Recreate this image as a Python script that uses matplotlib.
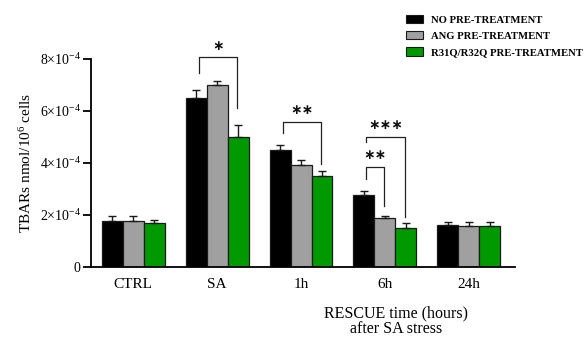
import matplotlib
matplotlib.use("Agg")
import matplotlib.pyplot as plt
from matplotlib.patches import Patch
import numpy as np

plt.rcParams['font.family'] = ['Liberation Serif', 'DejaVu Serif']
plt.rcParams['mathtext.fontset'] = 'custom'
plt.rcParams['mathtext.rm'] = 'Liberation Serif'
plt.rcParams['mathtext.it'] = 'Liberation Serif:italic'

categories = ["CTRL", "SA", "1h", "6h", "24h"]
series_names = ["NO PRE-TREATMENT", "ANG PRE-TREATMENT", "R31Q/R32Q PRE-TREATMENT"]
no_pre = [1.77e-4, 6.51e-4, 4.50e-4, 2.77e-4, 1.62e-4]
no_pre_err = [0.18e-4, 0.30e-4, 0.20e-4, 0.14e-4, 0.12e-4]
ang_pre = [1.77e-4, 6.99e-4, 3.93e-4, 1.90e-4, 1.57e-4]
ang_pre_err = [0.18e-4, 0.16e-4, 0.17e-4, 0.08e-4, 0.15e-4]
r31q_pre = [1.69e-4, 5.01e-4, 3.50e-4, 1.50e-4, 1.57e-4]
r31q_pre_err = [0.10e-4, 0.44e-4, 0.20e-4, 0.21e-4, 0.16e-4]
colors = ["#000000", "#a0a0a0", "#009a00"]
yticks = [0, 2e-4, 4e-4, 6e-4, 8e-4]
ytick_labels = ["0", r"2×10$^{-4}$", r"4×10$^{-4}$", r"6×10$^{-4}$", r"8×10$^{-4}$"]

# significance brackets: (group, bar_left, bar_right, top, left_end, right_end, star_y, label)
brackets = [
    (1, 0, 2, 8.07e-4, 7.45e-4, 6.12e-4, 8.50e-4, "*"),
    (2, 0, 2, 5.59e-4, 5.14e-4, 3.96e-4, 6.05e-4, "**"),
    (3, 0, 1, 3.86e-4, 3.37e-4, 2.35e-4, 4.32e-4, "**"),
    (3, 0, 2, 5.01e-4, 4.80e-4, 1.93e-4, 5.45e-4, "***"),
]

fig = plt.figure(figsize=(5.88, 3.40), dpi=100)
ax = fig.add_axes([0.155, 0.2147, 0.721, 0.6118])

x = np.arange(len(categories))
w = 0.25
offsets = [-w, 0, w]
for vals, errs, c, off, name in zip([no_pre, ang_pre, r31q_pre],
                                    [no_pre_err, ang_pre_err, r31q_pre_err],
                                    colors, offsets, series_names):
    ax.bar(x + off, vals, width=w, color=c, edgecolor="#1a1a1a", linewidth=0.9,
           label=name, zorder=2)
    ax.errorbar(x + off, vals, yerr=[np.zeros(len(vals)), errs], fmt="none",
                ecolor="#1a1a1a", elinewidth=1.0, capsize=3, capthick=1.0, zorder=3)

for g, bl, br, top, le, re, sy, lab in brackets:
    xl = g + offsets[bl] + 0.03
    xr = g + offsets[br] - 0.01
    ax.plot([xl, xl, xr, xr], [le, top, top, re], color="#222222", lw=0.9,
            clip_on=False, zorder=4)
    ax.text((xl + xr) / 2, sy, lab.replace("*", "∗"), ha="center", va="center",
            fontsize=10, fontweight="bold", family=["DejaVu Sans"], clip_on=False,
            color="#111111")

ax.set_xlim(-0.5, 4.55)
ax.set_ylim(0, 8e-4)
ax.set_yticks(yticks)
ax.set_yticklabels(ytick_labels, fontsize=10)
ax.set_xticks(x)
ax.set_xticklabels(categories, fontsize=11)
ax.tick_params(axis="x", length=0, pad=8)
ax.tick_params(axis="y", length=6, width=1.3, pad=1.5)
for s in ["top", "right"]:
    ax.spines[s].set_visible(False)
for s in ["left", "bottom"]:
    ax.spines[s].set_linewidth(1.3)

ax.set_ylabel(r"TBARs nmol/10$^{6}$ cells", fontsize=11, labelpad=4)

fig.text(0.674, 0.008, "RESCUE time (hours)\nafter SA stress", ha="center",
         va="bottom", fontsize=11.5, linespacing=1.0)

handles = [Patch(facecolor=c, edgecolor="#1a1a1a", linewidth=0.8) for c in colors]
leg = fig.legend(handles, series_names, loc="upper left", bbox_to_anchor=(0.678, 0.978),
                 frameon=False, prop={"weight": "bold", "size": 7.7},
                 handlelength=1.6, handleheight=0.8, handletextpad=0.75,
                 labelspacing=0.6, borderaxespad=0.3)

fig.savefig("out.png", dpi=100)
